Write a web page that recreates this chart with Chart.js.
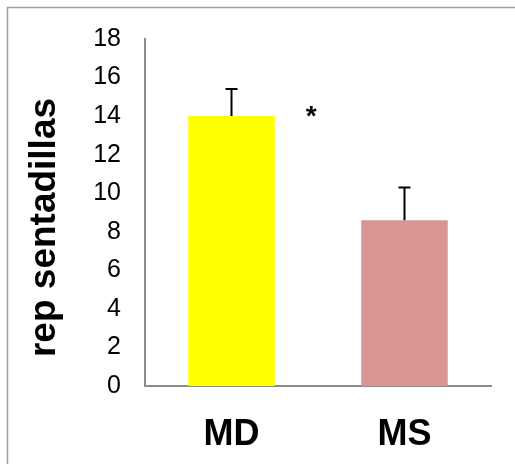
<!DOCTYPE html>
<html>
<head>
<meta charset="utf-8">
<script src="https://cdn.jsdelivr.net/npm/chart.js@4"></script>
<style>
  html, body { margin: 0; padding: 0; background: #fff; }
  canvas { display: block; }
</style>
</head>
<body>
<canvas id="chart" width="515" height="464"></canvas>
<script>
// Squat repetitions per group: mean with upward standard-error bar
const categories = ['MD', 'MS'];
const means = [14.0, 8.6];
const errors = [1.4, 1.7];
const barColors = ['#FFFF00', '#D99594'];
const marks = ['*', ''];
const yMin = 0;
const yMax = 18;
const yStep = 2;
const yTitle = 'rep sentadillas';

const FONT = '"Liberation Sans", Arial, sans-serif';

// Outer frame of the figure
const framePlugin = {
  id: 'frame',
  beforeDraw(chart) {
    const ctx = chart.ctx;
    ctx.save();
    ctx.fillStyle = '#ffffff';
    ctx.fillRect(0, 0, chart.width, chart.height);
    ctx.strokeStyle = '#a0a0a0';
    ctx.lineWidth = 1.5;
    ctx.strokeRect(7.5, 7.5, chart.width + 20, chart.height + 20);
    ctx.restore();
  }
};

// Rotated axis title, set slightly below the middle of the value axis
const yTitlePlugin = {
  id: 'yTitle',
  afterDraw(chart) {
    const ctx = chart.ctx;
    const area = chart.chartArea;
    ctx.save();
    ctx.translate(55, (area.top + area.bottom) / 2 + 15);
    ctx.rotate(-Math.PI / 2);
    ctx.fillStyle = '#000';
    ctx.font = 'bold 37px ' + FONT;
    ctx.textAlign = 'center';
    ctx.textBaseline = 'alphabetic';
    ctx.fillText(yTitle, 0, 0);
    ctx.restore();
  }
};

// Upward error bars and significance marks
const errorBarPlugin = {
  id: 'errorBars',
  afterDatasetsDraw(chart) {
    const ctx = chart.ctx;
    const xs = chart.scales.x;
    const ys = chart.scales.y;
    ctx.save();
    ctx.strokeStyle = '#000';
    ctx.lineWidth = 2;
    means.forEach((m, i) => {
      const cx = xs.getPixelForValue(i);
      const yTop = ys.getPixelForValue(m + errors[i]);
      const yBar = ys.getPixelForValue(m);
      ctx.beginPath();
      ctx.moveTo(cx, yBar);
      ctx.lineTo(cx, yTop);
      ctx.moveTo(cx - 6, yTop);
      ctx.lineTo(cx + 6, yTop);
      ctx.stroke();
      if (marks[i]) {
        ctx.fillStyle = '#000';
        ctx.font = 'bold 28px ' + FONT;
        ctx.textAlign = 'center';
        ctx.textBaseline = 'alphabetic';
        ctx.fillText(marks[i], xs.getPixelForValue(i + 0.46), yBar + 9);
      }
    });
    ctx.restore();
  }
};

new Chart(document.getElementById('chart'), {
  type: 'bar',
  data: {
    labels: categories,
    datasets: [{
      data: means,
      backgroundColor: barColors,
      borderWidth: 0,
      barPercentage: 0.5,
      categoryPercentage: 1.0
    }]
  },
  options: {
    responsive: false,
    animation: false,
    events: [],
    layout: { padding: { left: 0, top: 36, right: 24, bottom: 0 } },
    plugins: {
      legend: { display: false },
      tooltip: { enabled: false }
    },
    scales: {
      x: {
        grid: { display: false, drawTicks: false },
        border: { display: true, color: '#8c8c8c', width: 2 },
        ticks: {
          color: '#000',
          padding: 27,
          font: { family: FONT, size: 36, weight: 'bold' }
        },
        afterFit(scale) { scale.height = 78; }
      },
      y: {
        min: yMin,
        max: yMax,
        grid: { display: false, drawTicks: false },
        border: { display: true, color: '#8c8c8c', width: 2 },
        ticks: {
          stepSize: yStep,
          color: '#000',
          padding: 24,
          font: { family: FONT, size: 25 }
        },
        afterFit(scale) { scale.width = 145; }
      }
    }
  },
  plugins: [framePlugin, errorBarPlugin, yTitlePlugin]
});
</script>
</body>
</html>
